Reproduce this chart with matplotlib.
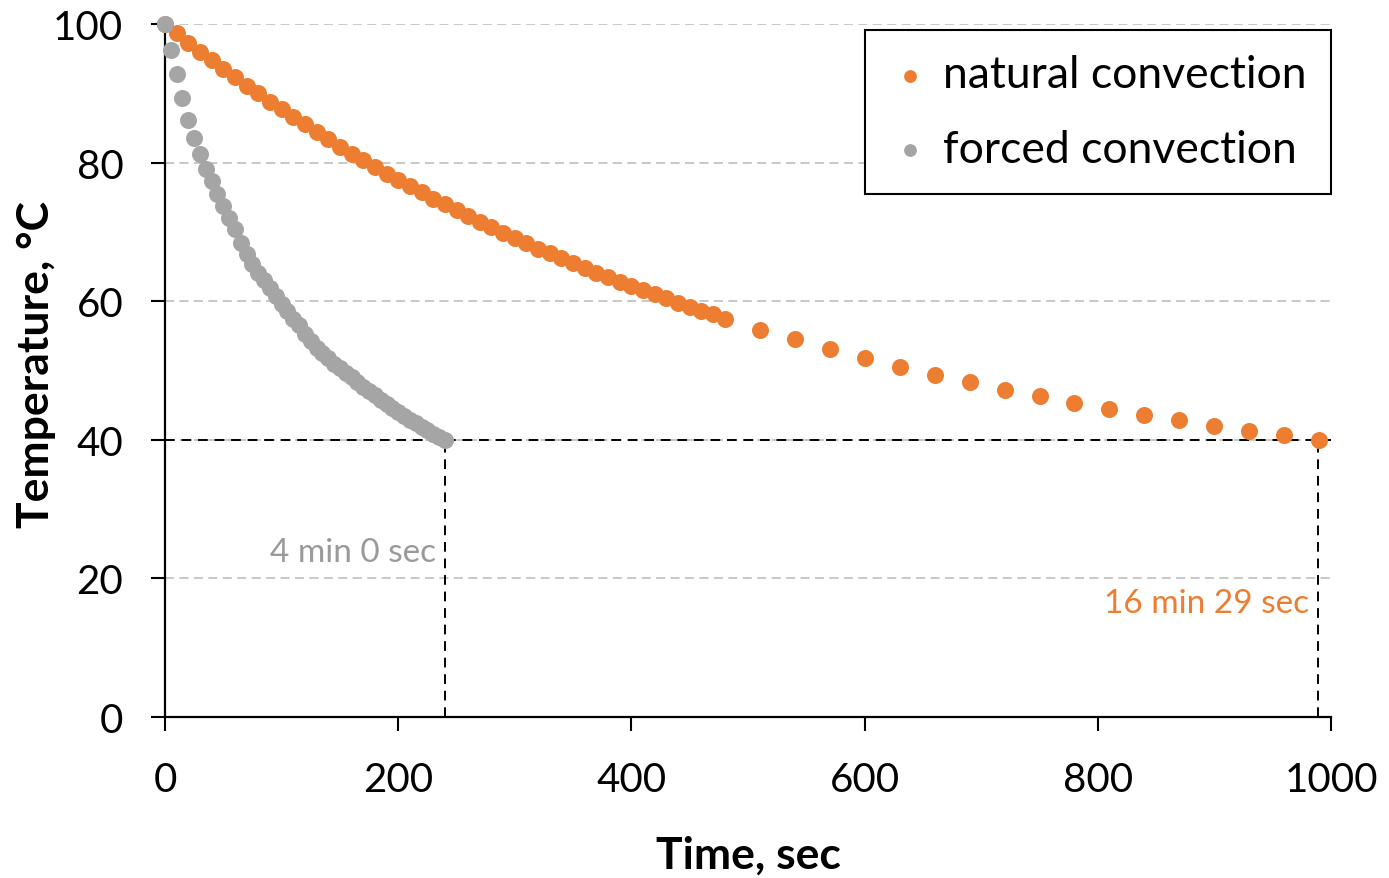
import matplotlib
matplotlib.use("Agg")
import matplotlib.pyplot as plt

# natural convection: every 10 s up to 480 s, then every 30 s
t_nat = list(range(0, 481, 10)) + list(range(510, 991, 30))
T_nat = [100.0, 98.7, 97.3, 96.0, 94.8, 93.5, 92.3, 91.1, 90.0, 88.8,
         87.7, 86.6, 85.5, 84.4, 83.4, 82.3, 81.3, 80.4, 79.4, 78.4,
         77.5, 76.6, 75.7, 74.8, 74.0, 73.1, 72.3, 71.5, 70.7, 69.9,
         69.1, 68.4, 67.6, 66.9, 66.2, 65.5, 64.8, 64.1, 63.5, 62.8,
         62.2, 61.6, 61.0, 60.4, 59.8, 59.2, 58.6, 58.1, 57.5,
         55.9, 54.5, 53.1, 51.8, 50.5, 49.4, 48.3, 47.2, 46.3, 45.3,
         44.4, 43.6, 42.8, 42.0, 41.3, 40.7, 40.0]

# forced convection: every 5 s up to 240 s
t_frc = list(range(0, 241, 5))
T_frc = [100.0, 96.3, 92.8, 89.3, 86.1, 83.5, 81.3, 79.1, 77.3, 75.5,
         73.8, 72.0, 70.4, 68.4, 66.8, 65.4, 64.1, 63.0, 61.9, 60.7,
         59.6, 58.6, 57.5, 56.5, 55.3, 54.2, 53.3, 52.5, 51.8, 51.0,
         50.3, 49.6, 49.0, 48.3, 47.6, 47.0, 46.4, 45.8, 45.2, 44.6,
         44.0, 43.5, 42.9, 42.4, 41.9, 41.4, 40.9, 40.4, 40.0]

target_T = 40
t_end_frc = 240
t_end_nat = 989

orange = "#ED7D31"
grey = "#A5A5A5"

plt.rcParams['font.family'] = ['Lato', 'DejaVu Sans']

fig = plt.figure(figsize=(13.89, 8.79), dpi=100)
ax = fig.add_axes([165/1389, 1 - 718/879, 1166/1389, 693/879])

ax.set_xlim(0, 1000)
ax.set_ylim(0, 100)
ax.set_xticks(range(0, 1001, 200))
ax.set_yticks(range(0, 101, 20))

ax.yaxis.grid(True, color="#C4C4C4", linestyle=(0, (5, 3)), linewidth=1.3)
ax.set_axisbelow(True)

for s in ("top", "right"):
    ax.spines[s].set_visible(False)
for s in ("left", "bottom"):
    ax.spines[s].set_linewidth(1.6)

ax.tick_params(axis="both", direction="out", length=10, width=1.5, labelsize=29)
ax.tick_params(axis="y", pad=20)
ax.tick_params(axis="x", pad=22)

# guide lines at 40 C
dash = (0, (5, 3.5))
ax.axhline(target_T, color="black", linestyle=dash, linewidth=1.4, zorder=2)
ax.plot([t_end_frc, t_end_frc], [0, target_T], color="black", linestyle=dash, linewidth=1.4, zorder=2)
ax.plot([t_end_nat, t_end_nat], [0, target_T], color="black", linestyle=dash, linewidth=1.4, zorder=2)

ax.scatter(t_nat, T_nat, s=150, color=orange, linewidths=0, label="natural convection", zorder=3, clip_on=False)
ax.scatter(t_frc, T_frc, s=150, color=grey, linewidths=0, label="forced convection", zorder=4, clip_on=False)

ax.text(232, 23.8, "4 min 0 sec", color="#9A9A9A", fontsize=24, ha="right", va="center")
ax.text(981, 16.5, "16 min 29 sec", color=orange, fontsize=24, ha="right", va="center")

ax.set_xlabel("Time, sec", fontsize=32, fontweight="bold", labelpad=26)
ax.set_ylabel("Temperature, \u00b0C", fontsize=32, fontweight="bold", va="center")
ax.yaxis.set_label_coords(-0.111, 0.51)

leg = ax.legend(loc="upper right", bbox_to_anchor=(1.0, 1 - 6/693), borderaxespad=0,
                fontsize=32, frameon=True, fancybox=False, edgecolor="black",
                handlelength=0.9, handletextpad=0.3, borderpad=0.55, labelspacing=0.75,
                markerscale=0.75)
leg.get_frame().set_linewidth(1.5)
leg.get_frame().set_alpha(1)

fig.savefig("out.png", dpi=100)
